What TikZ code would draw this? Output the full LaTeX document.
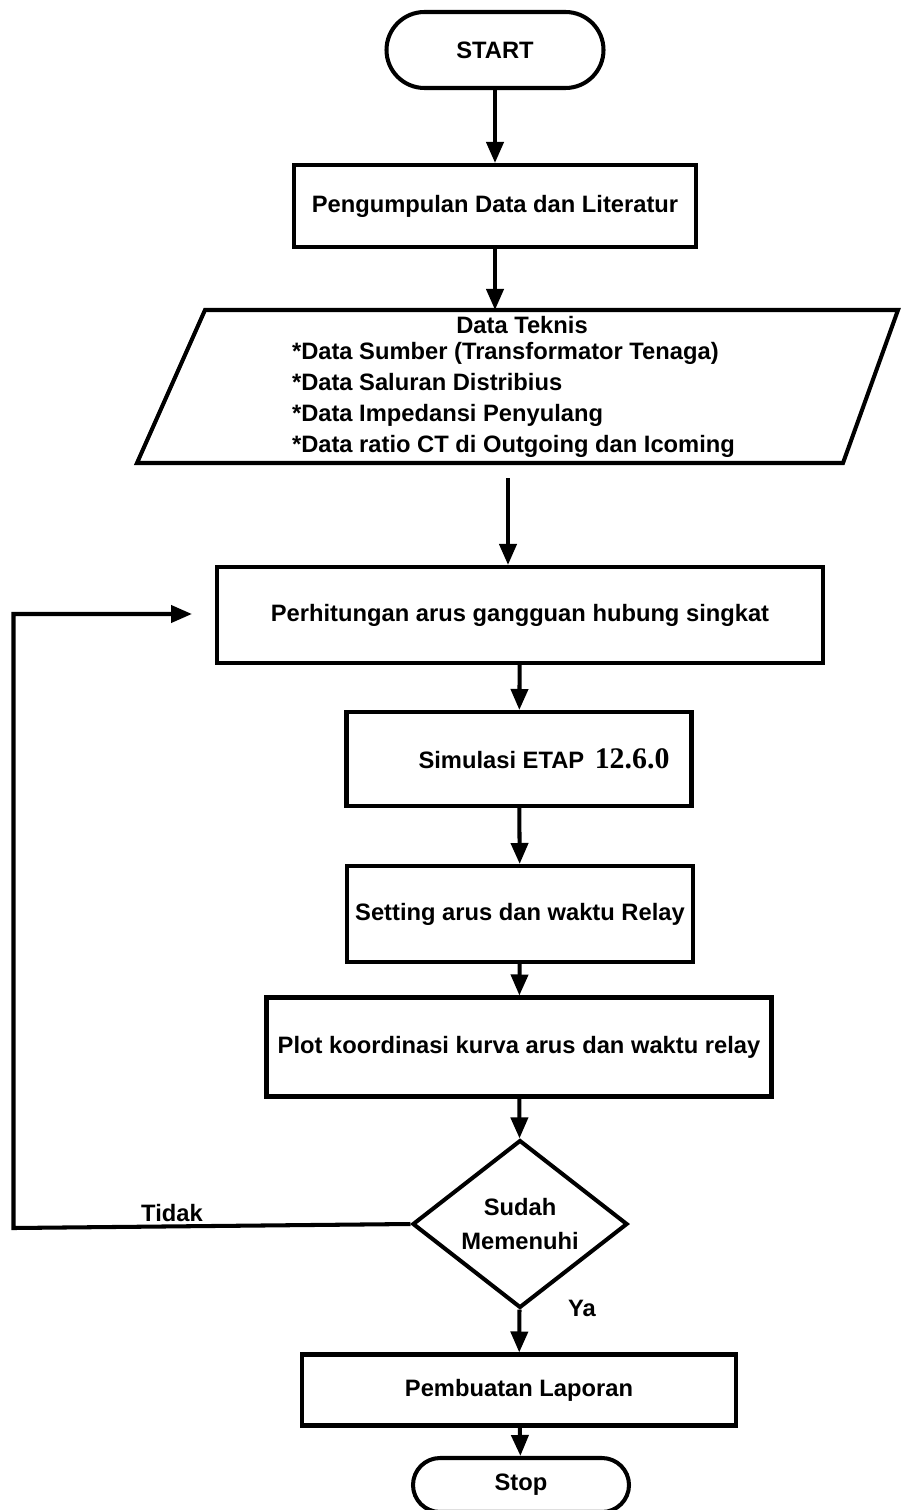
\documentclass[tikz,border=0pt]{standalone}
\usepackage{fontspec}
\setmainfont{Liberation Sans}
\newfontfamily\angkafont{Liberation Serif}
\usetikzlibrary{arrows.meta,shapes.geometric}

\begin{document}
\begin{tikzpicture}[line width=2.3pt, >={Triangle[length=0.42cm,width=0.34cm]},
		font=\fontsize{13.5}{16}\selectfont\bfseries,
		kotak/.style={draw, rectangle, inner sep=0pt},
		terminal/.style={draw, rectangle, rounded corners=#1, inner sep=0pt}]
		\useasboundingbox (0, 0) rectangle (18, -30.2);
		
		\node[terminal=0.76cm, minimum width=4.34cm, minimum height=1.52cm] (start) at (9.9, -1.0) {START};
		\node[kotak, minimum width=8.04cm, minimum height=1.64cm] (kumpul) at (9.9, -4.12) {Pengumpulan Data dan Literatur};
		
		% Data teknis (input)
		\coordinate (pa) at (4.1, -6.2);
		\coordinate (pb) at (17.96, -6.2);
		\coordinate (pc) at (16.86, -9.26);
		\coordinate (pd) at (2.74, -9.26);
		\draw (pa) -- (pb) -- (pc) -- (pd) -- cycle;
		\node (judul) at (10.44, -6.5) {Data Teknis};
		\node[anchor=west, align=left, inner sep=0pt, font=\fontsize{13.5}{17.6}\selectfont\bfseries] (daftar) at (5.8, -8.0)
			{*Data Sumber (Transformator Tenaga)\\*Data Saluran Distribius\\*Data Impedansi Penyulang\\*Data ratio CT di Outgoing dan Icoming};
		
		\node[kotak, minimum width=12.12cm, minimum height=1.92cm] (hitung) at (10.4, -12.3) {Perhitungan arus gangguan hubung singkat};
		\node[kotak, minimum width=6.9cm, minimum height=1.88cm] (simulasi) at (10.38, -15.18) {};
		\node (etap) at (10.88, -15.18) {Simulasi ETAP\, {\angkafont\fontsize{17}{20}\selectfont 12.6.0}};
		\node[kotak, minimum width=6.92cm, minimum height=1.92cm] (setting) at (10.4, -18.28) {Setting arus dan waktu Relay};
		\node[kotak, minimum width=10.1cm, minimum height=1.98cm] (plot) at (10.38, -20.94) {Plot koordinasi kurva arus dan waktu relay};
		\node[draw, diamond, inner sep=0pt, minimum width=4.3cm, minimum height=3.04cm, align=center] (cek) at (10.4, -24.48) {Sudah\\[0.1cm]Memenuhi};
		\node[kotak, minimum width=8.68cm, minimum height=1.42cm] (lapor) at (10.38, -27.8) {Pembuatan Laporan};
		\node[terminal=0.54cm, minimum width=4.32cm, minimum height=1.08cm] (stop) at (10.42, -29.7) {Stop};
		
		% Panah utama
		\draw[->] (start) -- (kumpul);
		\draw[->] (kumpul.south) -- (kumpul.south |- pa);
		\coordinate (bawah) at (10.16, -9.56);
		\draw[->] (bawah) -- (bawah |- hitung.north);
		\draw[->] (hitung) -- (simulasi);
		\draw[->] (simulasi) -- (setting);
		\draw[->] (setting) -- (plot);
		\draw[->] (plot) -- (cek);
		\draw[->] (cek) -- (lapor);
		\draw[->] (lapor) -- (stop);
		
		% Umpan balik
		\coordinate (kiri) at (0.27, -24.56);
		\coordinate (ujung) at (3.84, -12.28);
		\draw[->] (cek.west) -- (kiri) -- (kiri |- ujung) -- (ujung);
		
		\node (tidak) at (3.44, -24.26) {Tidak};
		\node (ya) at (11.64, -26.16) {Ya};
	\end{tikzpicture}
\end{document}
